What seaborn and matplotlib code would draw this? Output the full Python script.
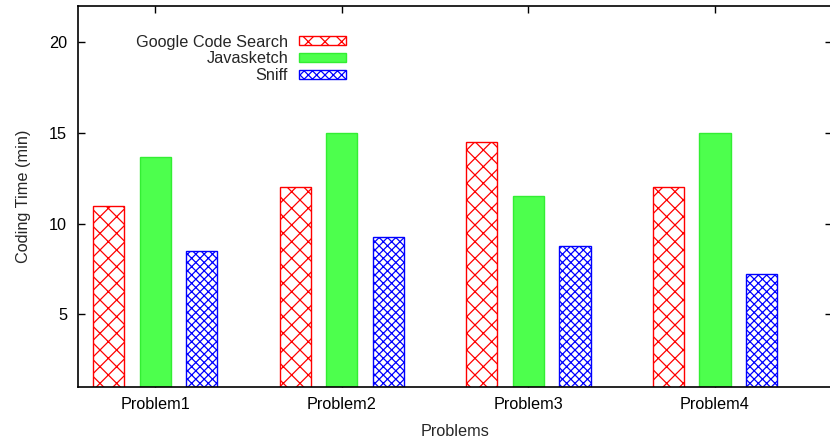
import pandas as pd
import matplotlib
matplotlib.use("Agg")
import matplotlib.pyplot as plt
import seaborn as sns

# valores
problems = ['Problem1', 'Problem2', 'Problem3', 'Problem4']
tools = ['Google Code Search', 'Javasketch', 'Sniff']
google_code_search = [11.0, 12.0, 14.5, 12.0]
javasketch = [13.67, 15.0, 11.5, 15.0]
sniff = [8.5, 9.25, 8.75, 7.25]

df = pd.DataFrame({
    'Problem': problems * 3,
    'Tool': [tools[0]] * 4 + [tools[1]] * 4 + [tools[2]] * 4,
    'Time': google_code_search + javasketch + sniff,
})

sns.set_style('white')
plt.rcParams['font.family'] = ['Liberation Sans', 'DejaVu Sans']
plt.rcParams['font.size'] = 11.7
plt.rcParams['hatch.linewidth'] = 0.9

fig = plt.figure(figsize=(8.3, 4.38), dpi=100)
ax = fig.add_axes([0.094, 0.1164, 0.909, 0.870])

sns.barplot(data=df, x='Problem', y='Time', hue='Tool', order=problems,
            hue_order=tools, width=0.75, gap=0.333, ax=ax, legend=False)

styles = [
    dict(facecolor='white', edgecolor='#ff0000', hatch='xx'),
    dict(facecolor='#4dff4d', edgecolor='#33ee33', hatch=None),
    dict(facecolor='white', edgecolor='#0000ff', hatch='xxxx'),
]
for cont, st in zip(ax.containers, styles):
    for p in cont:
        p.set_facecolor(st['facecolor'])
        p.set_edgecolor(st['edgecolor'])
        p.set_hatch(st['hatch'])
        p.set_linewidth(1.0)

ax.set_ylim(1, 22)
ax.set_xlim(-0.414, 3.63)
ax.set_yticks([5, 10, 15, 20])
ax.set_xlabel('Problems', labelpad=8)
ax.set_ylabel('Coding Time (min)', labelpad=13)

for s in ax.spines.values():
    s.set_visible(True)
    s.set_color('black')
    s.set_linewidth(1.2)
ax.tick_params(direction='in', length=5, width=1.0, top=True, right=True,
               bottom=True, left=True, colors='black', labelcolor='black')
ax.tick_params(axis='x', pad=7.5)
ax.tick_params(axis='y', pad=8)

handles = [c for c in ax.containers]
ax.legend(handles, tools, loc='upper left', bbox_to_anchor=(0.077, 0.925),
          frameon=False, markerfirst=False, handlelength=2.9, handleheight=0.45,
          handletextpad=0.68, labelspacing=0.12, borderpad=0, borderaxespad=0)
for t in ax.get_legend().get_texts():
    t.set_ha('right')

fig.savefig('out.png', dpi=100)
